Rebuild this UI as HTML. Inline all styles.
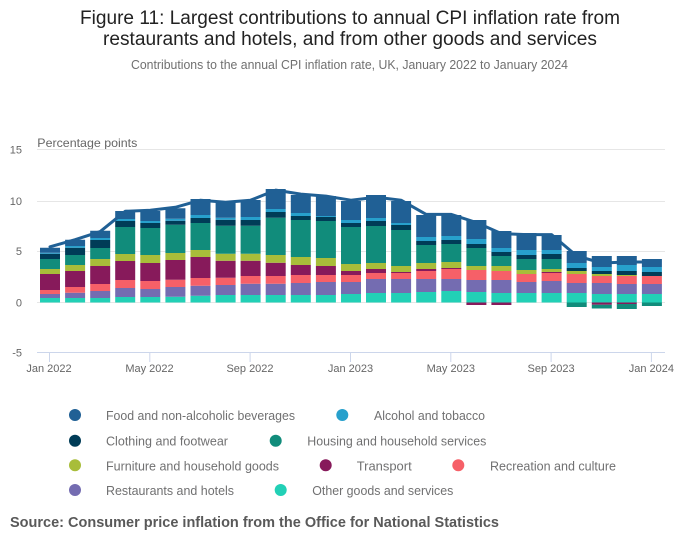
<!DOCTYPE html>
<html>
<head>
<meta charset="utf-8">
<style>
  html, body { margin: 0; padding: 0; background: #ffffff; }
  body { width: 700px; height: 549px; overflow: hidden; }
  svg { display: block; font-family: "Liberation Sans", Arial, sans-serif; }
</style>
</head>
<body>
<svg width="700" height="549" viewBox="0 0 700 549" xmlns="http://www.w3.org/2000/svg">
  <rect x="0" y="0" width="700" height="549" fill="#ffffff"/>

  <!-- Titles -->
  <text x="350" y="24" text-anchor="middle" font-size="19" fill="#222222" textLength="540" lengthAdjust="spacingAndGlyphs">Figure 11: Largest contributions to annual CPI inflation rate from</text>
  <text x="350" y="45" text-anchor="middle" font-size="19" fill="#222222" textLength="494" lengthAdjust="spacingAndGlyphs">restaurants and hotels, and from other goods and services</text>
  <text x="349.5" y="69" text-anchor="middle" font-size="12.5" fill="#707070" textLength="437" lengthAdjust="spacingAndGlyphs">Contributions to the annual CPI inflation rate, UK, January 2022 to January 2024</text>

  <!-- Axis title -->
  <text x="37.3" y="147" font-size="12" fill="#666666" textLength="100" lengthAdjust="spacingAndGlyphs">Percentage points</text>

  <!-- Gridlines -->
  <g stroke="#e6e6e6" stroke-width="1">
    <line x1="37" y1="149.5" x2="665" y2="149.5"/>
    <line x1="37" y1="201.5" x2="665" y2="201.5"/>
    <line x1="37" y1="251.5" x2="665" y2="251.5"/>
    <line x1="37" y1="302.5" x2="665" y2="302.5"/>
  </g>
  <!-- X axis line and ticks -->
  <g stroke="#ccd6eb" stroke-width="1">
    <line x1="37" y1="352.5" x2="665" y2="352.5"/>
    <line x1="49.5" y1="352.5" x2="49.5" y2="362"/>
    <line x1="149.8" y1="352.5" x2="149.8" y2="362"/>
    <line x1="250.1" y1="352.5" x2="250.1" y2="362"/>
    <line x1="350.5" y1="352.5" x2="350.5" y2="362"/>
    <line x1="450.8" y1="352.5" x2="450.8" y2="362"/>
    <line x1="551.1" y1="352.5" x2="551.1" y2="362"/>
    <line x1="651.4" y1="352.5" x2="651.4" y2="362"/>
  </g>

  <!-- Y labels -->
  <g font-size="11" fill="#666666" text-anchor="end">
    <text x="22" y="153.5">15</text>
    <text x="22" y="205">10</text>
    <text x="22" y="255">5</text>
    <text x="22" y="306.5">0</text>
    <text x="22" y="356.5">-5</text>
  </g>
  <!-- X labels -->
  <g font-size="11" fill="#666666" text-anchor="middle">
    <text x="49" y="372">Jan 2022</text>
    <text x="149.5" y="372">May 2022</text>
    <text x="250" y="372">Sep 2022</text>
    <text x="350.5" y="372">Jan 2023</text>
    <text x="450.8" y="372">May 2023</text>
    <text x="551.1" y="372">Sep 2023</text>
    <text x="651.4" y="372">Jan 2024</text>
  </g>

  <!-- Bars (stacked segments as thick strokes, width 20) -->
  <g stroke-width="20" fill="none" stroke-linecap="butt">
    <!-- Other goods and services -->
    <path stroke="#22d0b6" d="M50 302.5V298M75.1 302.5V298M100.2 302.5V298M125.2 302.5V297M150.3 302.5V297M175.4 302.5V296.7M200.5 302.5V295.7M225.6 302.5V295M250.6 302.5V295M275.7 302.5V295M300.8 302.5V295M325.9 302.5V295M351 302.5V294M376 302.5V293M401.1 302.5V293M426.2 302.5V292M451.3 302.5V291M476.4 302.5V292M501.4 302.5V293M526.5 302.5V293M551.6 302.5V293M576.7 302.5V293M601.8 302.5V294M626.8 302.5V294M651.9 302.5V294"/>
    <!-- Restaurants and hotels -->
    <path stroke="#746cb1" d="M50 298V294M75.1 298V292.7M100.2 298V291M125.2 297V288M150.3 297V289M175.4 296.7V287M200.5 295.7V285.7M225.6 295V285M250.6 295V283.7M275.7 295V283.7M300.8 295V283M325.9 295V282M351 294V282M376 293V279M401.1 293V279M426.2 292V279M451.3 291V279M476.4 292V280M501.4 293V280M526.5 293V282M551.6 293V281M576.7 293V283M601.8 294V283M626.8 294V284M651.9 294V284"/>
    <!-- Recreation and culture -->
    <path stroke="#f66068" d="M50 294V290M75.1 292.7V287M100.2 291V284M125.2 288V280M150.3 289V281M175.4 287V279.7M200.5 285.7V278M225.6 285V277.7M250.6 283.7V276M275.7 283.7V276M300.8 283V275M325.9 282V275M351 282V275M376 279V273M401.1 279V273M426.2 279V271M451.3 279V269M476.4 280V270M501.4 280V271M526.5 282V274M551.6 281V273M576.7 283V274M601.8 283V276M626.8 284V276M651.9 284V276"/>
    <!-- Transport -->
    <path stroke="#871a5b" d="M50 290V274M75.1 287V271M100.2 284V266M125.2 280V261M150.3 281V263M175.4 279.7V260M200.5 278V257M225.6 277.7V260.7M250.6 276V260.7M275.7 276V262.7M300.8 275V265M325.9 275V266M351 275V271M376 273V269M401.1 273V272M426.2 271V269M451.3 269V268M551.6 273V272M476.4 302.5V305M501.4 302.5V305M601.8 302.5V304.7M626.8 302.5V304"/>
    <!-- Furniture and household goods -->
    <path stroke="#a8bd3a" d="M50 274V269M75.1 271V265M100.2 266V259M125.2 261V254M150.3 263V255M175.4 260V253M200.5 257V250M225.6 260.7V253.7M250.6 260.7V253.7M275.7 262.7V255M300.8 265V257M325.9 266V258M351 271V264M376 269V263M401.1 272V266M426.2 269V263M451.3 268V262M476.4 270V266M501.4 271V266M526.5 274V270M551.6 272V269M576.7 274V271M601.8 276V274M626.8 276V275"/>
    <!-- Housing and household services -->
    <path stroke="#118c7b" d="M50 269V259M75.1 265V255M100.2 259V248M125.2 254V227M150.3 255V228M175.4 253V224.7M200.5 250V223M225.6 253.7V225.7M250.6 253.7V225.7M275.7 255V217.7M300.8 257V220M325.9 258V221M351 264V227M376 263V226M401.1 266V230M426.2 263V245M451.3 262V244M476.4 266V248M501.4 266V256M526.5 270V259M551.6 269V259M576.7 302.5V307M601.8 304.7V308.5M626.8 304V309M651.9 302.5V306"/>
    <!-- Clothing and footwear -->
    <path stroke="#003c57" d="M50 259V253.7M75.1 255V247.7M100.2 248V240M125.2 227V221M150.3 228V223M175.4 224.7V220.7M200.5 223V218M225.6 225.7V219.7M250.6 225.7V220M275.7 217.7V212M300.8 220V216M325.9 221V217M351 227V223M376 226V221M401.1 230V225M426.2 245V241M451.3 244V240M476.4 248V244M501.4 256V252M526.5 259V255M551.6 259V254M576.7 271V268M601.8 274V271M626.8 275V271M651.9 276V272"/>
    <!-- Alcohol and tobacco -->
    <path stroke="#27a0cc" d="M50 253.7V252.7M75.1 247.7V246M100.2 240V238M125.2 221V219M150.3 223V221M175.4 220.7V218.7M200.5 218V215M225.6 219.7V217.7M250.6 220V217M275.7 212V209M300.8 216V213M325.9 217V216M351 223V220M376 221V218M401.1 225V223M426.2 241V237M451.3 240V236M476.4 244V239M501.4 252V248M526.5 255V250M551.6 254V250M576.7 268V263M601.8 271V267M626.8 271V265M651.9 272V267"/>
    <!-- Food and non-alcoholic beverages -->
    <path stroke="#206095" d="M50 252.7V247.7M75.1 246V239.7M100.2 238V230.7M125.2 219V211M150.3 221V211M175.4 218.7V208.3M200.5 215V199M225.6 217.7V202.7M250.6 217V200M275.7 209V189M300.8 213V195M325.9 216V196M351 220V201M376 218V195M401.1 223V201M426.2 237V215M451.3 236V215M476.4 239V220M501.4 248V231M526.5 250V233M551.6 250V235M576.7 263V251M601.8 267V256M626.8 265V256M651.9 267V259"/>
  </g>

  <!-- CPI line -->
  <polyline fill="none" stroke="#206095" stroke-width="3" stroke-linejoin="round" stroke-linecap="round"
    points="50,246.8 75.1,239.7 100.2,231.6 125.2,211.3 150.3,210.3 175.4,207.3 200.5,200.2 225.6,202.2 250.6,200.2 275.7,190.1 300.8,194.1 325.9,196.1 351,200.2 376,197.2 401.1,200.2 426.2,214.4 451.3,214.4 476.4,222.5 501.4,233.6 526.5,234.6 551.6,234.6 576.7,255.9 601.8,263 626.8,262 651.9,262"/>

  <!-- Legend -->
  <g>
    <circle cx="75" cy="415" r="6" fill="#206095"/>
    <circle cx="342.3" cy="415" r="6" fill="#27a0cc"/>
    <circle cx="75" cy="440.7" r="6" fill="#003c57"/>
    <circle cx="275.7" cy="440.7" r="6" fill="#118c7b"/>
    <circle cx="75" cy="465.3" r="6" fill="#a8bd3a"/>
    <circle cx="325.7" cy="465.3" r="6" fill="#871a5b"/>
    <circle cx="458.3" cy="465.3" r="6" fill="#f66068"/>
    <circle cx="75" cy="490" r="6" fill="#746cb1"/>
    <circle cx="280.7" cy="490" r="6" fill="#22d0b6"/>
  </g>
  <g font-size="13" fill="#707071">
    <text x="106" y="420" textLength="189" lengthAdjust="spacingAndGlyphs">Food and non-alcoholic beverages</text>
    <text x="374" y="420" textLength="111" lengthAdjust="spacingAndGlyphs">Alcohol and tobacco</text>
    <text x="106" y="445.7" textLength="122" lengthAdjust="spacingAndGlyphs">Clothing and footwear</text>
    <text x="307.3" y="445.7" textLength="179" lengthAdjust="spacingAndGlyphs">Housing and household services</text>
    <text x="106" y="470.3" textLength="173" lengthAdjust="spacingAndGlyphs">Furniture and household goods</text>
    <text x="356.7" y="470.3" textLength="55" lengthAdjust="spacingAndGlyphs">Transport</text>
    <text x="490" y="470.3" textLength="126" lengthAdjust="spacingAndGlyphs">Recreation and culture</text>
    <text x="106" y="495" textLength="128" lengthAdjust="spacingAndGlyphs">Restaurants and hotels</text>
    <text x="312.3" y="495" textLength="141" lengthAdjust="spacingAndGlyphs">Other goods and services</text>
  </g>

  <!-- Source -->
  <text x="10" y="527" font-size="14.5" font-weight="bold" fill="#595959" textLength="489" lengthAdjust="spacingAndGlyphs">Source: Consumer price inflation from the Office for National Statistics</text>
</svg>
</body>
</html>
